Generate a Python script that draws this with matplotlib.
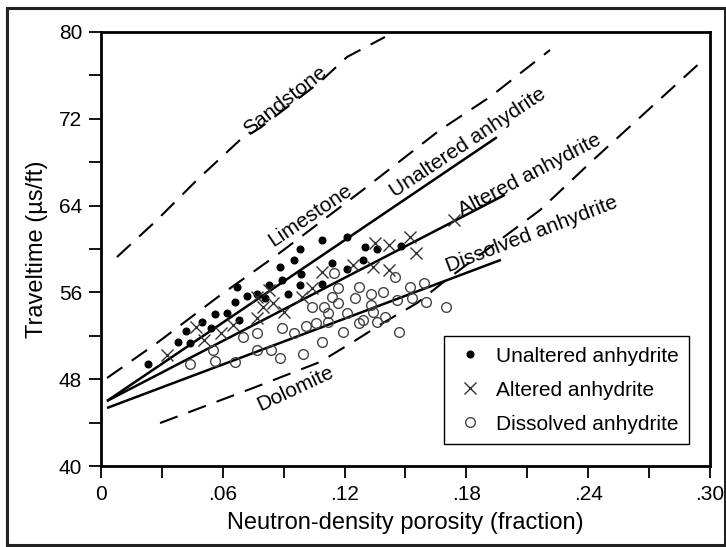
import matplotlib
matplotlib.use("Agg")
import matplotlib.pyplot as plt
from matplotlib.patches import Rectangle

plt.rcParams['font.family'] = ['Liberation Sans', 'DejaVu Sans']

# measured points (porosity fraction, traveltime us/ft)
unaltered_x = [0.023, 0.038, 0.042, 0.044, 0.050, 0.054, 0.056, 0.062, 0.066, 0.067,
               0.068, 0.072, 0.077, 0.081, 0.083, 0.088, 0.089, 0.092, 0.095, 0.098,
               0.0986, 0.098, 0.109, 0.109, 0.114, 0.121, 0.121, 0.129, 0.130, 0.136, 0.148]
unaltered_y = [49.4, 51.4, 52.4, 51.3, 53.3, 52.7, 54.0, 54.1, 55.1, 56.5,
               53.5, 55.7, 55.9, 55.5, 56.7, 58.3, 57.1, 55.9, 59.0, 60.0,
               57.7, 56.7, 60.8, 56.8, 58.7, 61.1, 58.2, 59.0, 60.2, 60.0, 60.3]

altered_x = [0.0325, 0.047, 0.051, 0.059, 0.065, 0.077, 0.077, 0.080, 0.083, 0.085,
             0.090, 0.099, 0.104, 0.109, 0.124, 0.134, 0.135, 0.142, 0.142, 0.152,
             0.155, 0.174]
altered_y = [50.2, 52.8, 51.6, 52.3, 53.0, 53.6, 55.6, 54.7, 56.2, 55.0,
             54.2, 55.6, 56.4, 57.9, 58.5, 58.3, 60.6, 60.4, 58.1, 61.1,
             59.6, 62.7]

dissolved_x = [0.044, 0.055, 0.056, 0.066, 0.070, 0.077, 0.077, 0.084, 0.088, 0.089,
               0.095, 0.0996, 0.101, 0.104, 0.106, 0.109, 0.110, 0.112, 0.112, 0.114,
               0.115, 0.117, 0.117, 0.119, 0.121, 0.125, 0.127, 0.127, 0.129, 0.133,
               0.133, 0.134, 0.136, 0.139, 0.140, 0.145, 0.146, 0.147, 0.152, 0.153,
               0.159, 0.160, 0.170]
dissolved_y = [49.4, 50.7, 49.7, 49.6, 51.9, 50.7, 52.3, 50.7, 49.95, 52.7,
               52.3, 50.3, 52.9, 54.65, 53.2, 51.4, 54.65, 53.3, 54.1, 55.6,
               57.8, 56.4, 55.0, 52.35, 54.1, 55.5, 53.2, 56.5, 53.5, 55.9,
               54.8, 54.2, 53.3, 56.0, 53.7, 57.4, 55.3, 52.35, 56.5, 55.5,
               56.9, 55.1, 54.65]

# fitted trends (solid)
fit_unaltered_x = [0.003, 0.195]
fit_unaltered_y = [46.0, 70.3]
fit_altered_x = [0.003, 0.199]
fit_altered_y = [46.0, 65.0]
fit_dissolved_x = [0.003, 0.197]
fit_dissolved_y = [45.35, 59.0]

# lithology lines (dashed)
sandstone_x = [0.0079, 0.0276, 0.0473, 0.0685, 0.0783, 0.1079, 0.1212, 0.1399]
sandstone_y = [59.26, 62.67, 66.36, 70.05, 71.15, 75.39, 77.70, 79.54]
limestone_x = [0.003, 0.0276, 0.0576, 0.0867, 0.129, 0.167, 0.1916, 0.2212]
limestone_y = [48.11, 51.34, 55.58, 59.45, 65.44, 70.97, 74.01, 78.34]
dolomite_x = [0.0291, 0.0749, 0.1079, 0.1241, 0.1389, 0.1557, 0.170, 0.2163, 0.2424, 0.2941]
dolomite_y = [43.96, 47.19, 49.59, 51.43, 53.18, 55.02, 57.14, 63.59, 68.2, 77.0]

xticks = [0, 0.06, 0.12, 0.18, 0.24, 0.30]
xticklabels = ['0', '.06', '.12', '.18', '.24', '.30']
yticks = [40, 48, 56, 64, 72, 80]

fig = plt.figure(figsize=(7.26, 5.47), dpi=100)
ax = fig.add_axes([0.139, 0.148, 0.839, 0.7935])

dash = (9, 5.5)
for xs, ys in [(sandstone_x, sandstone_y), (limestone_x, limestone_y), (dolomite_x, dolomite_y)]:
    ax.plot(xs, ys, color='black', lw=1.5, dashes=dash)
for xs, ys in [(fit_unaltered_x, fit_unaltered_y), (fit_altered_x, fit_altered_y),
               (fit_dissolved_x, fit_dissolved_y)]:
    ax.plot(xs, ys, color='black', lw=1.8, solid_capstyle='butt')

ax.plot(unaltered_x, unaltered_y, 'o', ms=4.8, color='black', ls='none',
        label='Unaltered anhydrite')
ax.plot(altered_x, altered_y, 'x', ms=8, mew=1.0, color='#333333', ls='none',
        label='Altered anhydrite')
ax.plot(dissolved_x, dissolved_y, 'o', ms=7, mew=1.0, mfc='none', mec='#444444',
        ls='none', label='Dissolved anhydrite')

lab = dict(fontsize=15, ha='center', va='center', rotation_mode='anchor')
ax.text(0.0905, 73.7, 'Sandstone', rotation=38, **lab)
ax.text(0.103, 63.1, 'Limestone', rotation=34, **lab)
ax.text(0.1808, 69.8, 'Unaltered anhydrite', rotation=33.5, **lab)
ax.text(0.2113, 66.8, 'Altered anhydrite', rotation=27.5, **lab)
ax.text(0.2123, 61.3, 'Dissolved anhydrite', rotation=21, **lab)
ax.text(0.0956, 47.1, 'Dolomite', rotation=25, **lab)

ax.set_xlim(0, 0.30)
ax.set_ylim(40, 80)
ax.set_xticks(xticks)
ax.set_xticklabels(xticklabels)
ax.set_xticks([0.03, 0.09, 0.15, 0.21, 0.27], minor=True)
ax.set_yticks(yticks)
ax.set_yticks([44, 52, 60, 68, 76], minor=True)
ax.tick_params(which='both', direction='out', length=8.5, width=1.3, labelsize=15, pad=5)
for s in ax.spines.values():
    s.set_linewidth(2)

ax.set_xlabel('Neutron-density porosity (fraction)', fontsize=17, labelpad=6)
ax.set_ylabel('Traveltime (µs/ft)', fontsize=17, labelpad=8)

leg = ax.legend(loc='lower right', bbox_to_anchor=(0.9655, 0.0507), fontsize=15,
                frameon=True, fancybox=False, framealpha=1, edgecolor='black',
                labelspacing=0.72, handletextpad=0.5, borderpad=0.5, handlelength=1.5,
                borderaxespad=0)
leg.get_frame().set_linewidth(1.0)

fig.patches.append(Rectangle((0.0096, 0.0037), 0.989, 0.9817, transform=fig.transFigure,
                             fill=False, edgecolor='#222222', lw=2.2))

fig.savefig('out.png', dpi=100)
